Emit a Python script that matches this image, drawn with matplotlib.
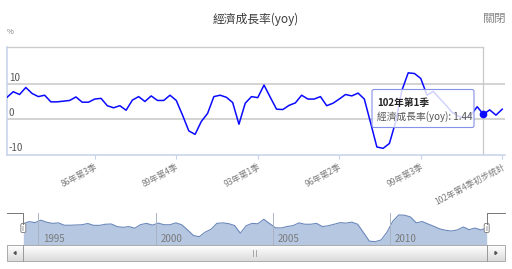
import numpy as np
import matplotlib
matplotlib.use("Agg")
import matplotlib.pyplot as plt
from matplotlib.patches import FancyBboxPatch, Rectangle, Polygon

plt.rcParams['font.family'] = ['Noto Sans CJK TC', 'DejaVu Sans']

# quarterly GDP growth (yoy, %), 83年第1季 .. 102年第4季
years_roc = list(range(83, 103))
growth = [
    6.3, 7.9, 7.1, 9.1, 7.4, 6.5, 6.9, 5.0, 5.0, 5.2,
    5.4, 6.4, 4.9, 4.9, 5.8, 6.0, 3.9, 3.3, 3.9, 2.6,
    5.5, 6.5, 5.1, 6.7, 5.4, 5.4, 6.9, 5.4, 1.2, -3.3,
    -4.3, -0.6, 1.7, 6.5, 6.9, 6.3, 4.8, -1.4, 4.6, 6.5,
    6.2, 9.8, 6.3, 2.9, 2.8, 4.0, 4.7, 6.9, 5.8, 5.8,
    6.5, 3.9, 4.6, 5.8, 7.1, 6.7, 7.5, 5.8, -1.0, -7.9,
    -8.3, -6.9, -0.7, 8.3, 13.3, 13.1, 11.7, 6.9, 8.0, 6.0,
    4.1, 2.0, 0.9, 0.3, 1.2, 3.6, 1.44, 2.7, 1.2, 2.9,
]
labels = [f"{y}年第{q}季" for y in years_roc for q in range(1, 5)]
labels[-1] = labels[-1] + "初步統計"
tick_idx = [14, 27, 40, 53, 66, 79]
hover_idx = 76
nav_years = [1995, 2000, 2005, 2010]
nav_start = 1994.36

W, H = 512, 269
fig = plt.figure(figsize=(W / 100, H / 100), dpi=100)

def px_axes(x0, y0, x1, y1):
    return fig.add_axes([x0 / W, 1 - y1 / H, (x1 - x0) / W, (y1 - y0) / H])

x = np.arange(len(growth))

# main chart
ax = px_axes(7, 47.3, 505, 155)
ax.set_xlim(0, 79.44)
ax.set_ylim(-10.2, 20.6)
for v in [0, 10]:
    ax.axhline(v, color="#c8c8c8", lw=1.1, zorder=1)
for v in [10, 0, -10]:
    ax.text(0.3, v + 0.5, str(v), fontsize=7, color="#555555", va="bottom", ha="left")
ax.plot(x, growth, color="#0a0aff", lw=1.1, zorder=3)
ax.plot(x[hover_idx], growth[hover_idx], "o", color="#0a0aff", ms=4.5, zorder=4)
ax.axvline(hover_idx, color="#c8c8c8", lw=0.9, zorder=2)
ax.plot([0, hover_idx], [20.6, 20.6], color="#cccccc", lw=1, clip_on=False)
for s in ["top", "right"]:
    ax.spines[s].set_visible(False)
ax.spines["left"].set_color("#c5d2ea")
ax.spines["bottom"].set_color("#c5d2ea")
ax.spines["left"].set_linewidth(1.1)
ax.spines["bottom"].set_linewidth(1.1)
ax.set_yticks([])
ax.set_xticks(tick_idx)
ax.set_xticklabels([labels[i] for i in tick_idx], rotation=28, ha="right",
                   rotation_mode="anchor", fontsize=6.1, color="#7a7a7a")
ax.tick_params(axis="x", length=3, color="#c5d2ea", pad=2)

# navigator
nav = px_axes(23.3, 213, 486.7, 245)
nx = nav_start + x / 4
nav.fill_between(nx, growth, -11, color="#b6c7e2", lw=0)
nav.plot(nx, growth, color="#6a88bb", lw=0.8)
nav.set_xlim(nx[0], nx[-1])
nav.set_ylim(-11, 14.9)
for yr in nav_years:
    nav.axvline(yr, color="#aab3c0", lw=0.7)
    nav.text(yr + 0.2, -9.8, str(yr), fontsize=7, color="#7a7a7a", va="bottom")
nav.axis("off")

# overlay: title, tooltip, scrollbar
ov = fig.add_axes([0, 0, 1, 1], zorder=10)
ov.set_xlim(0, W)
ov.set_ylim(H, 0)
ov.axis("off")

ov.text(256, 19, "經濟成長率(yoy)", fontsize=8.5, color="#3a3a3a", ha="center", va="center")
ov.text(506, 18, "關閉", fontsize=8.5, color="#888888", ha="right", va="center")
ov.text(7, 32, "%", fontsize=5.5, color="#777777", ha="left", va="center")

ov.add_patch(FancyBboxPatch((372, 89.5), 102, 38, boxstyle="round,pad=0,rounding_size=2",
                            facecolor="white", alpha=0.82, edgecolor="none"))
ov.add_patch(FancyBboxPatch((372, 89.5), 102, 38, boxstyle="round,pad=0,rounding_size=2",
                            facecolor="none", edgecolor="#8593e6", lw=0.8))
ov.text(377, 103, labels[hover_idx], fontsize=7, fontweight="bold", color="#222222", va="center")
ov.text(377, 117, f"經濟成長率(yoy): {growth[hover_idx]}", fontsize=7, color="#555555", va="center")

# navigator frame + handles
ov.plot([7, 23.3, 23.3], [212.7, 212.7, 224], color="#777777", lw=0.7)
ov.plot([505, 486.7, 486.7], [212.7, 212.7, 224], color="#777777", lw=0.7)
for hx in [23.3, 486.7]:
    ov.add_patch(FancyBboxPatch((hx - 2.5, 223.5), 5, 9, boxstyle="round,pad=0,rounding_size=1.5",
                                facecolor="white", edgecolor="#888888", lw=0.7))
    ov.add_patch(Rectangle((hx - 1, 225.5), 2, 5, facecolor="#cccccc", edgecolor="none"))

# scrollbar
grad = np.linspace(1.0, 0.86, 20).reshape(-1, 1)
ov.imshow(grad, extent=(7, 505, 261, 245), cmap="gray", vmin=0, vmax=1, aspect="auto", zorder=1)
ov.add_patch(Rectangle((7, 245), 498, 16, facecolor="none", edgecolor="#aaaaaa", lw=0.7, zorder=2))
ov.plot([23.3, 23.3], [245, 261], color="#999999", lw=0.7, zorder=2)
ov.plot([486.7, 486.7], [245, 261], color="#999999", lw=0.7, zorder=2)
ov.plot([253, 253], [250, 256], color="#999999", lw=0.6, zorder=3)
ov.plot([255.5, 255.5], [250, 256], color="#999999", lw=0.6, zorder=3)
ov.add_patch(Polygon([[14, 253], [16, 251.5], [16, 254.5]], closed=True, color="#555555", zorder=3))
ov.add_patch(Polygon([[497, 253], [495, 251.5], [495, 254.5]], closed=True, color="#555555", zorder=3))
ov.set_xlim(0, W)
ov.set_ylim(H, 0)

fig.savefig("out.png", dpi=100)
